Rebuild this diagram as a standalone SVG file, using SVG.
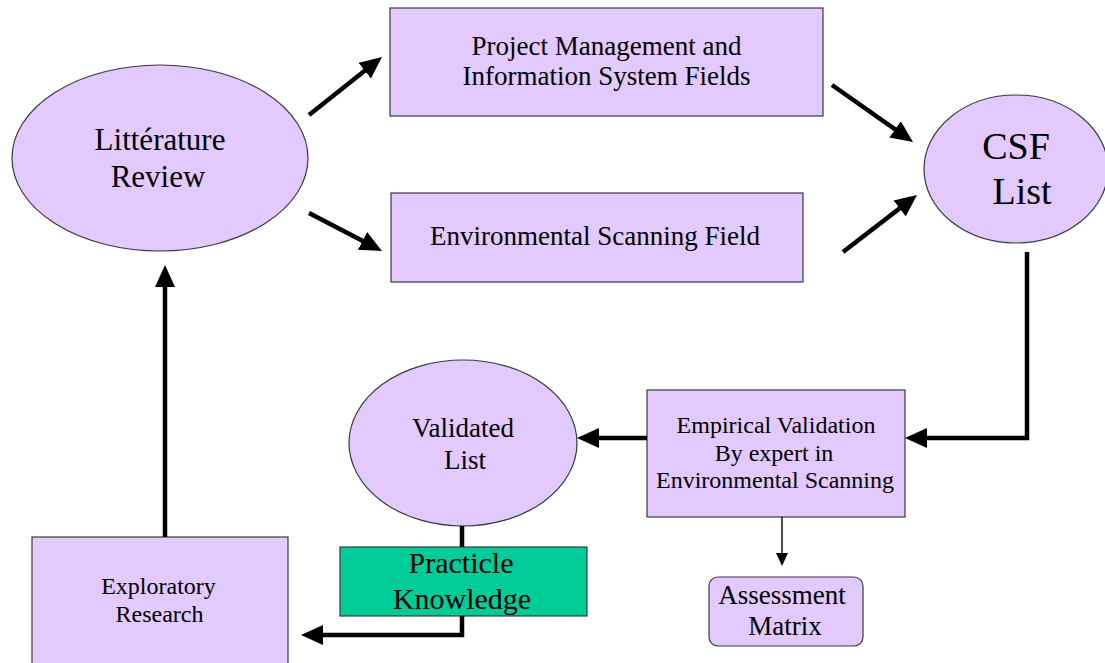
<svg xmlns="http://www.w3.org/2000/svg" width="1105" height="663" viewBox="0 0 1105 663">
  <style>
    .node { fill: #E2C9FE; stroke: #3a3a3a; stroke-width: 1.2; }
    .green { fill: #00CC99; stroke: #3a3a3a; stroke-width: 1.2; }
    text { font-family: "Liberation Serif", "Times New Roman", serif; fill: #000; text-anchor: middle; }
    .link { fill: none; stroke: #000; stroke-width: 4.5; stroke-linejoin: miter; }
    .thin { fill: none; stroke: #000; stroke-width: 1.4; }
  </style>
  <defs>
    <marker id="head" markerUnits="userSpaceOnUse" markerWidth="22" markerHeight="20" refX="14" refY="10" orient="auto">
      <path d="M0,0 L22,10 L0,20 z" fill="#000"/>
    </marker>
    <marker id="headSmall" markerUnits="userSpaceOnUse" markerWidth="13" markerHeight="12" refX="11" refY="6" orient="auto">
      <path d="M0,0 L13,6 L0,12 z" fill="#000"/>
    </marker>
  </defs>

  <rect width="1105" height="663" fill="#fff"/>

  <g id="literature-review">
    <ellipse class="node" cx="160" cy="158" rx="148" ry="93"/>
    <text x="160" y="150" font-size="31">Littérature</text>
    <text x="158" y="187" font-size="31">Review</text>
  </g>

  <g id="pm-is-fields">
    <rect class="node" x="390" y="8" width="433" height="108"/>
    <text x="606.5" y="55" font-size="27">Project Management and</text>
    <text x="606.5" y="85" font-size="27">Information System Fields</text>
  </g>

  <g id="env-scanning-field">
    <rect class="node" x="391" y="193" width="412" height="89"/>
    <text x="595" y="245" font-size="27">Environmental Scanning Field</text>
  </g>

  <g id="csf-list">
    <ellipse class="node" cx="1016" cy="169" rx="92" ry="74"/>
    <text x="1016" y="159" font-size="38">CSF</text>
    <text x="1022" y="204" font-size="38">List</text>
  </g>

  <g id="empirical-validation">
    <rect class="node" x="647" y="390" width="258" height="127"/>
    <text x="776" y="433" font-size="24">Empirical Validation</text>
    <text x="774" y="461" font-size="24">By expert in</text>
    <text x="775" y="488" font-size="24">Environmental Scanning</text>
  </g>

  <g id="assessment-matrix">
    <rect class="node" x="709" y="577" width="154" height="69" rx="9" ry="9"/>
    <text x="782" y="604" font-size="27">Assessment</text>
    <text x="785" y="635" font-size="27">Matrix</text>
  </g>

  <g id="validated-list">
    <ellipse class="node" cx="463" cy="443" rx="114" ry="83"/>
    <text x="463" y="437" font-size="27">Validated</text>
    <text x="465" y="469" font-size="27">List</text>
  </g>

  <g id="practical-knowledge">
    <rect class="green" x="340" y="547" width="247" height="69"/>
    <text x="461" y="573" font-size="30">Practicle</text>
    <text x="462" y="609" font-size="30">Knowledge</text>
  </g>

  <g id="exploratory-research">
    <rect class="node" x="32" y="537" width="256" height="160"/>
    <text x="158.5" y="594" font-size="24">Exploratory</text>
    <text x="159.5" y="622" font-size="24">Research</text>
  </g>

  <g id="connectors">
    <path class="link" d="M309,115 L375.7,62" marker-end="url(#head)"/>
    <path class="link" d="M309,213 L374.9,247.3" marker-end="url(#head)"/>
    <path class="link" d="M832,85 L906.5,137.4" marker-end="url(#head)"/>
    <path class="link" d="M843,252 L910.7,199.9" marker-end="url(#head)"/>
    <path class="link" d="M1027,252 V438 H913" marker-end="url(#head)"/>
    <path class="link" d="M647,438 H585" marker-end="url(#head)"/>
    <path class="thin" d="M782,517 V564" marker-end="url(#headSmall)"/>
    <path class="link" d="M462,526 V547"/>
    <path class="link" d="M462,616 V635 H309" marker-end="url(#head)"/>
    <path class="link" d="M165,537 V273" marker-end="url(#head)"/>
  </g>
</svg>
